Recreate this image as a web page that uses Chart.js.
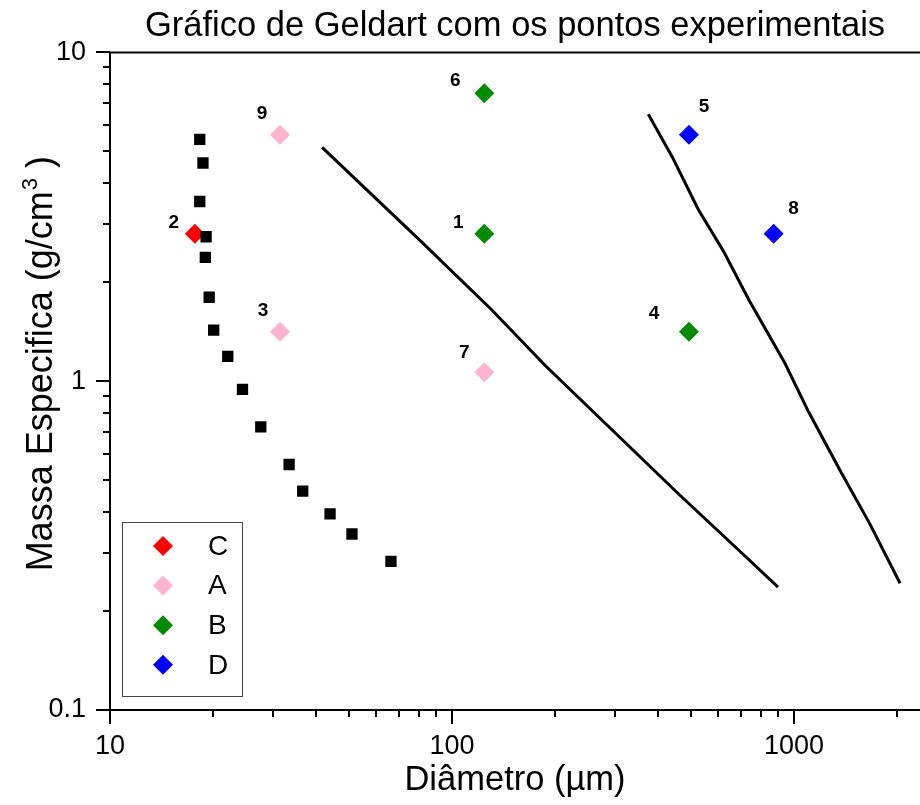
<!DOCTYPE html>
<html><head><meta charset="utf-8">
<script src="https://cdn.jsdelivr.net/npm/chart.js@4.4.1/dist/chart.umd.min.js"></script>
<style>html,body{margin:0;padding:0;background:#fff;}canvas{display:block;}</style>
</head><body>
<div style="width:920px;height:805px;"><canvas id="c" width="920" height="805"></canvas></div>
<script>
// ---- data ----
const chartTitle = 'Gráfico de Geldart com os pontos experimentais';
const xAxisTitle = 'Diâmetro (µm)';
const yAxisTitleMain = 'Massa Especifica (g/cm';
const yAxisTitleSup = '3';
const yAxisTitleEnd = ' )';

const groupLabels = ['C', 'A', 'B', 'D'];
const groupColors = ['#ff0000', '#ffb3cc', '#008a00', '#0000ff'];

const cX = [17.7];              const cY = [2.81];               const cIds = ['2'];
const aX = [31.4, 31.4, 124.3]; const aY = [5.62, 1.414, 1.065]; const aIds = ['9', '3', '7'];
const bX = [124.3, 124.3, 493]; const bY = [7.51, 2.81, 1.414];  const bIds = ['6', '1', '4'];
const dX = [493, 872];          const dY = [5.62, 2.81];         const dIds = ['5', '8'];

const boundaryX = [18.3, 18.7, 18.3, 19.1, 19.0, 19.5, 20.1, 22.1, 24.4, 27.6, 33.4, 36.6, 44.0, 51.0, 66.3];
const boundaryY = [5.44, 4.61, 3.52, 2.75, 2.38, 1.80, 1.43, 1.19, 0.944, 0.726, 0.558, 0.463, 0.395, 0.343, 0.283];

const lineABx = [41.7, 80.6, 130.6, 187, 464, 719, 898];
const lineABy = [5.14, 2.68, 1.65, 1.118, 0.450, 0.294, 0.2365];

const lineBDx = [375, 441, 525, 624, 739, 941, 1101, 1363, 1668, 2042];
const lineBDy = [6.48, 4.80, 3.33, 2.47, 1.763, 1.134, 0.81, 0.536, 0.3675, 0.243];

const xTickLabels = [10, 100, 1000];
const yTickLabels = [0.1, 1, 10];

// label offsets (pixels) for the point numbers
const idOffsets = {'1':[-26,-11],'2':[-21,-11],'3':[-17,-21],'4':[-35,-18],'5':[15,-28],'6':[-29,-13],'7':[-20,-19],'8':[20,-25],'9':[-18,-21]};

const FONT = "'Liberation Sans', Arial, sans-serif";
const pts = (xs, ys) => xs.map((x, i) => ({x: x, y: ys[i]}));

const groupXs = [cX, aX, bX, dX], groupYs = [cY, aY, bY, dY], groupIds = [cIds, aIds, bIds, dIds];

const datasets = [];
datasets.push({label: 'boundary', data: pts(boundaryX, boundaryY), showLine: false, pointStyle: 'rect',
  pointRadius: 8, pointBorderWidth: 0, backgroundColor: '#000', borderColor: '#000', order: 0});
groupLabels.forEach((g, k) => {
  datasets.push({label: g, data: pts(groupXs[k], groupYs[k]), showLine: false, pointStyle: 'rectRot',
    pointRadius: 10, pointBorderWidth: 0, backgroundColor: groupColors[k], borderColor: groupColors[k],
    order: 1 + k, legendEntry: true, ids: groupIds[k]});
});
datasets.push({label: 'A/B', data: pts(lineABx, lineABy), showLine: true, borderColor: '#000', borderWidth: 3,
  pointRadius: 0, tension: 0, fill: false, order: 10});
datasets.push({label: 'B/D', data: pts(lineBDx, lineBDy), showLine: true, borderColor: '#000', borderWidth: 3,
  pointRadius: 0, tension: 0, fill: false, order: 11});

function logMatch(v, list) { return list.find(l => Math.abs(Math.log10(v) - Math.log10(l)) < 1e-6); }
const zeroPad = () => ({left: 0, top: 0, right: 0, bottom: 0});

const decorPlugin = {
  id: 'decor',
  afterDraw(chart) {
    const ctx = chart.ctx, a = chart.chartArea, xs = chart.scales.x, ys = chart.scales.y;
    ctx.save();
    ctx.strokeStyle = '#000'; ctx.lineWidth = 2; ctx.lineCap = 'butt';
    // axis lines
    ctx.beginPath();
    ctx.moveTo(a.left, a.top); ctx.lineTo(a.right, a.top);
    ctx.moveTo(a.left, a.top - 1); ctx.lineTo(a.left, a.bottom + 1);
    ctx.moveTo(a.left - 1, a.bottom); ctx.lineTo(a.right, a.bottom);
    ctx.stroke();
    // x ticks
    ctx.beginPath();
    for (let e = 1; e <= 4; e++) {
      for (let m = 1; m <= 9; m++) {
        const v = m * Math.pow(10, e);
        const px = xs.getPixelForValue(v);
        if (px < a.left - 0.5 || px > a.right + 0.5) continue;
        const len = m === 1 ? 14 : 7;
        ctx.moveTo(Math.round(px), a.bottom); ctx.lineTo(Math.round(px), a.bottom + len);
      }
    }
    // y ticks
    for (let e = -1; e <= 1; e++) {
      for (let m = 1; m <= 9; m++) {
        const v = m * Math.pow(10, e);
        const py = ys.getPixelForValue(v);
        if (py < a.top - 0.5 || py > a.bottom + 0.5) continue;
        const len = m === 1 ? 14 : 7;
        ctx.moveTo(a.left, Math.round(py)); ctx.lineTo(a.left - len, Math.round(py));
      }
    }
    ctx.stroke();

    // y axis title with superscript
    ctx.fillStyle = '#000';
    ctx.translate(39, (a.top + a.bottom) / 2 - 17);
    ctx.rotate(-Math.PI / 2);
    const fMain = '36px ' + FONT, fSup = '22px ' + FONT;
    ctx.font = fMain; const w1 = ctx.measureText(yAxisTitleMain).width; const w3 = ctx.measureText(yAxisTitleEnd).width;
    ctx.font = fSup; const w2 = ctx.measureText(yAxisTitleSup).width;
    let x0 = -(w1 + w2 + w3) / 2;
    ctx.textBaseline = 'alphabetic'; ctx.textAlign = 'left';
    ctx.font = fMain; ctx.fillText(yAxisTitleMain, x0, 13);
    ctx.font = fSup; ctx.fillText(yAxisTitleSup, x0 + w1 + 1, -2);
    ctx.font = fMain; ctx.fillText(yAxisTitleEnd, x0 + w1 + w2 + 1, 13);
    ctx.restore();

    // legend
    ctx.save();
    const lx = a.left + 12, ly = a.bottom - 188, lw = 120, lh = 174;
    ctx.fillStyle = '#fff'; ctx.fillRect(lx, ly, lw, lh);
    ctx.strokeStyle = '#444'; ctx.lineWidth = 1;
    ctx.strokeRect(lx + 0.5, ly + 0.5, lw, lh);
    const entries = chart.data.datasets.filter(d => d.legendEntry);
    entries.forEach((d, i) => {
      const cy = ly + 24 + i * 39.6;
      const cx = lx + 41;
      ctx.fillStyle = d.backgroundColor;
      ctx.beginPath();
      ctx.moveTo(cx - 10, cy); ctx.lineTo(cx, cy - 10); ctx.lineTo(cx + 10, cy); ctx.lineTo(cx, cy + 10);
      ctx.closePath(); ctx.fill();
      ctx.fillStyle = '#000'; ctx.font = '28px ' + FONT;
      ctx.textAlign = 'left'; ctx.textBaseline = 'middle';
      ctx.fillText(d.label, lx + 86, cy + 1);
    });
    ctx.restore();
  },
  afterDatasetsDraw(chart) {
    const ctx = chart.ctx;
    ctx.save();
    ctx.fillStyle = '#000'; ctx.font = 'bold 19px ' + FONT;
    ctx.textAlign = 'center'; ctx.textBaseline = 'middle';
    chart.data.datasets.forEach((d, di) => {
      if (!d.ids) return;
      const meta = chart.getDatasetMeta(di);
      meta.data.forEach((el, i) => {
        const off = idOffsets[d.ids[i]] || [0, -15];
        ctx.fillText(d.ids[i], el.x + off[0], el.y + off[1]);
      });
    });
    ctx.restore();
  }
};

new Chart(document.getElementById('c'), {
  type: 'scatter',
  data: {datasets: datasets},
  options: {
    responsive: false, animation: false, devicePixelRatio: 1,
    layout: {padding: 0, autoPadding: false},
    plugins: {
      legend: {display: false}, tooltip: {enabled: false},
      title: {display: true, text: chartTitle, fullSize: false, color: '#000',
        font: {family: FONT, size: 34.5, weight: 'normal'}, padding: {top: 6, bottom: 5}}
    },
    scales: {
      x: {type: 'logarithmic', min: 10, max: 2336,
        border: {display: false}, grid: {display: false, drawTicks: false},
        afterBuildTicks: s => { s.ticks = xTickLabels.map(v => ({value: v})); },
        afterFit: s => { s.height = 95; s.paddingLeft = 0; s.paddingRight = 0; s.getPadding = zeroPad; },
        ticks: {autoSkip: false, maxRotation: 0, padding: 20, color: '#000', font: {family: FONT, size: 27},
          callback: v => { const m = logMatch(v, xTickLabels); return m === undefined ? '' : String(m); }},
        title: {display: true, text: xAxisTitle, color: '#000', font: {family: FONT, size: 34.5}, padding: {top: 0, bottom: 4}}
      },
      y: {type: 'logarithmic', min: 0.1, max: 10,
        border: {display: false}, grid: {display: false, drawTicks: false},
        afterBuildTicks: s => { s.ticks = yTickLabels.map(v => ({value: v})); },
        afterFit: s => { s.width = 110; s.paddingTop = 0; s.paddingBottom = 0; s.getPadding = zeroPad; },
        ticks: {autoSkip: false, padding: 24, color: '#000', font: {family: FONT, size: 27},
          callback: v => { const m = logMatch(v, yTickLabels); return m === undefined ? '' : String(m); }}
      }
    }
  },
  plugins: [decorPlugin]
});
</script>
</body></html>
